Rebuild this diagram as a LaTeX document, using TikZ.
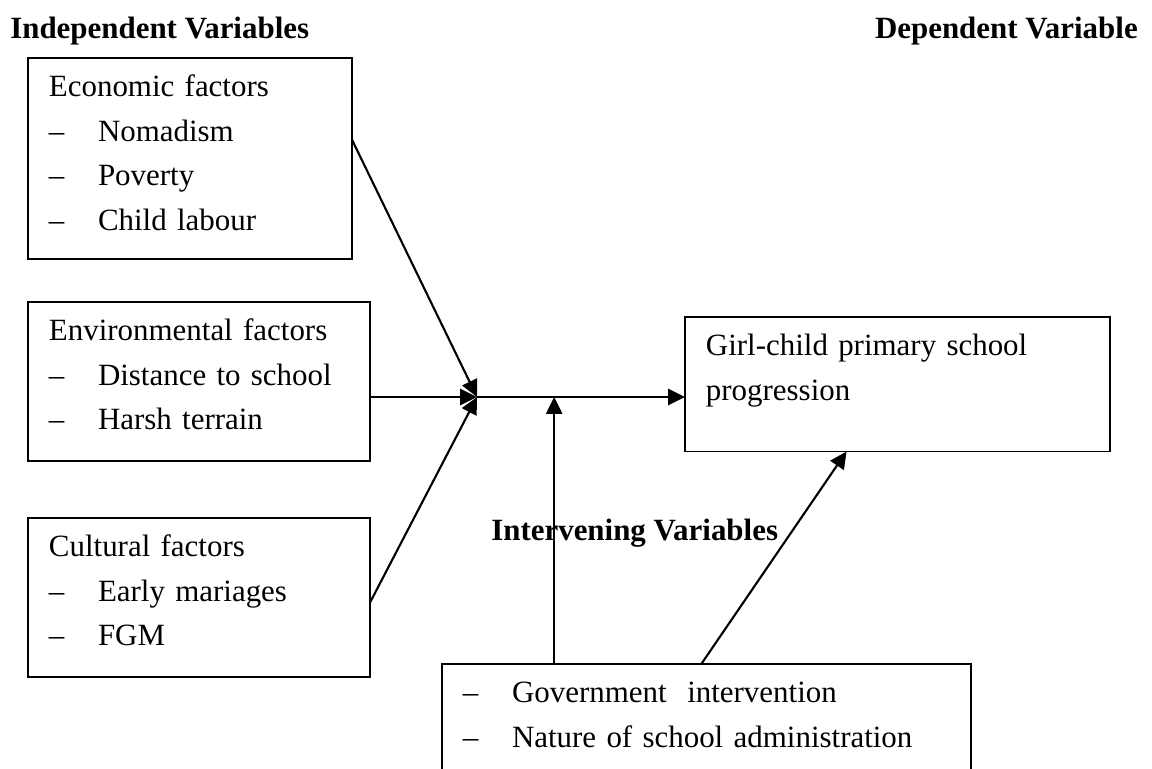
\documentclass[tikz,border=0pt]{standalone}
\usepackage{fontspec}
\setmainfont{Liberation Serif}
\usetikzlibrary{arrows.meta,calc}

\newcommand{\figfont}{\fontsize{22}{31.65}\selectfont}
\newcommand{\topstrut}{\rule{0pt}{22pt}}
\newcommand{\botstrut}[1]{\rule[-#1]{0pt}{#1}}
\newcommand{\dashitem}[1]{\makebox[34.9pt][l]{--}#1}

\tikzset{
  factor/.style={draw, line width=1.4pt, anchor=north west, align=left,
    inner xsep=14.9pt, inner ysep=5.7pt, outer sep=0pt, font=\figfont},
  heading/.style={font=\figfont\bfseries, anchor=base west, inner sep=0pt},
  link/.style={line width=1.5pt, -{Triangle[length=12pt,width=11.5pt]}}
}

\begin{document}
\begin{tikzpicture}[x=0.025cm, y=-0.025cm]
  \useasboundingbox (0,0) rectangle (1152,769);

  % headings
  \node[heading] (indep) at (10,38) {Independent Variables};
  \node[heading, anchor=base east] (dep) at (1138,38) {Dependent Variable};
  \node[heading] (interv) at (491,540) {Intervening Variables};

  % independent variables
  \node[factor, text width=200.7pt] (eco) at (28,58)
    {\topstrut Economic factors\\ \dashitem{Nomadism}\\ \dashitem{Poverty}\\
     \dashitem{Child labour}\botstrut{14.9pt}};
  \node[factor, text width=213.5pt] (env) at (28,302)
    {\topstrut Environmental factors\\ \dashitem{Distance to school}\\
     \dashitem{Harsh terrain}\botstrut{16.4pt}};
  \node[factor, text width=213.5pt] (cult) at (28,518)
    {\topstrut Cultural factors\\ \dashitem{Early mariages}\\
     \dashitem{FGM}\botstrut{16.4pt}};

  % dependent variable
  \node[factor, text width=272.5pt] (girl) at (685,317)
    {\topstrut Girl-child primary school\\ progression\botstrut{30.6pt}};

  % intervening variables
  \node[factor, text width=346.5pt] (gov) at (442,664)
    {\topstrut\dashitem{Government~ intervention}\\
     \dashitem{Nature of school administration}\botstrut{14.9pt}};

  \coordinate (hub) at (477,397);
  \coordinate (govl) at ($(gov.north west)!0.212!(gov.north east)$);
  \coordinate (govr) at ($(gov.north west)!0.49!(gov.north east)$);

  \draw[link] ($(eco.north east)!0.407!(eco.south east)$) -- (hub);
  \draw[link] (hub -| env.east) -- (hub);
  \draw[link] ($(cult.north east)!0.53!(cult.south east)$) -- (hub);
  \draw[link] (hub) -- (hub -| girl.west);
  \draw[link] (govl) -- (govl |- hub);
  \draw[link] (govr) -- ($(girl.south west)!0.38!(girl.south east)$);
\end{tikzpicture}
\end{document}
